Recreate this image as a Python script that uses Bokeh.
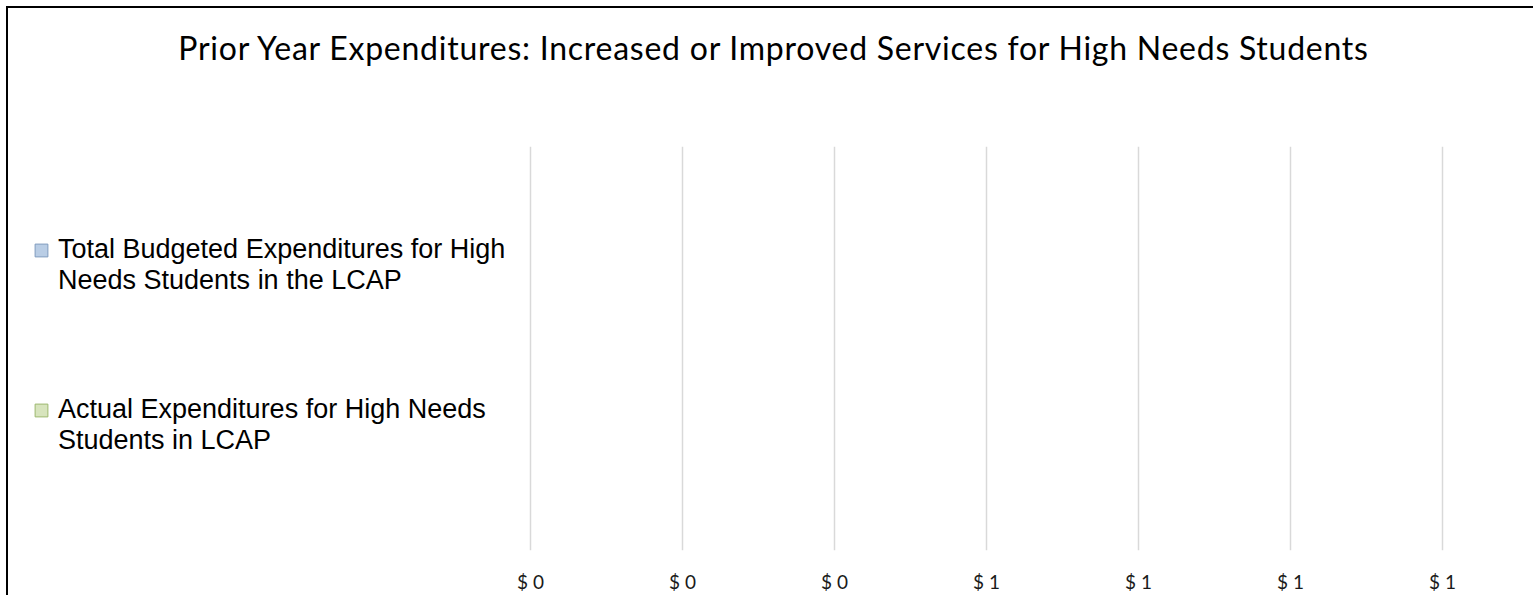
from bokeh.plotting import figure
from bokeh.models import (Range1d, FactorRange, FixedTicker, Legend, LegendItem, Div)
from bokeh.layouts import column, row
from bokeh.embed import file_html
from bokeh.resources import INLINE

title_text = "Prior Year Expenditures: Increased or Improved Services for High Needs Students"
categories = ["Actual", "Total"]
series_lines = [["Total Budgeted Expenditures for High", "Needs Students in the LCAP"],
                ["Actual Expenditures for High Needs", "Students in LCAP"]]
series_cats = ["Total", "Actual"]
series_values = [0, 0]
series_fill = ["#B9CDE5", "#D7E4BD"]
series_line = ["#7F9BBE", "#9DB86E"]
tick_values = [0, 0.2, 0.4, 0.6, 0.8, 1.0, 1.2]
tick_labels = ["$ 0", "$ 0", "$ 0", "$ 1", "$ 1", "$ 1", "$ 1"]

# layout constants (pixels)
PAGE_W, PAGE_H = 1533, 595
BOX_OFF = 6
LINE_W = 2
W = PAGE_W - BOX_OFF - LINE_W
TITLE_H = 146
FIG_H = PAGE_H - TITLE_H
BOTTOM = 29
AXIS_LEFT_PX = 522      # first tick, from the frame's left
AXIS_RIGHT_PX = 1434    # last tick, from the frame's left
px_per_unit = (AXIS_RIGHT_PX - AXIS_LEFT_PX) / (tick_values[-1] - tick_values[0])
x_start = tick_values[0] - AXIS_LEFT_PX / px_per_unit
x_end = tick_values[-1] + (W - AXIS_RIGHT_PX) / px_per_unit

p = figure(width=W, height=FIG_H, x_range=Range1d(x_start, x_end),
           y_range=FactorRange(factors=categories),
           output_backend="svg", toolbar_location=None,
           min_border_left=0, min_border_right=0, min_border_top=0, min_border_bottom=BOTTOM)
p.outline_line_color = None
p.background_fill_color = "white"
p.border_fill_color = "white"
p.yaxis.visible = False
p.ygrid.visible = False

ax = p.xaxis[0]
ax.ticker = FixedTicker(ticks=tick_values)
ax.major_label_overrides = {v: s for v, s in zip(tick_values, tick_labels)}
ax.axis_line_color = None
ax.major_tick_line_color = None
ax.minor_tick_line_color = None
ax.major_label_text_font = "Lato"
ax.major_label_text_font_size = "19px"
ax.major_label_text_line_height = 0.9
ax.major_label_text_color = "#1a1a1a"
ax.major_label_standoff = 13
p.xgrid.grid_line_color = "#D9D9D9"
p.xgrid.grid_line_width = 1.5

nan = float("nan")
legend_y = [254, 94]   # legend bottoms, px above the frame's bottom
for lines, cat, val, fc, lc, ly in zip(series_lines, series_cats, series_values,
                                       series_fill, series_line, legend_y):
    p.hbar(y=[cat], left=[0], right=[val], height=0.6, fill_color=fc, line_alpha=0)
    proxy = p.hbar(y=[cat], left=[nan], right=[nan], height=0.6,
                   fill_color=fc, line_color=lc, line_width=1)
    blank = p.hbar(y=[cat], left=[nan], right=[nan], height=0.6,
                   fill_alpha=0, line_alpha=0)
    items = [LegendItem(label=lines[0], renderers=[proxy]),
             LegendItem(label=lines[1], renderers=[blank])]
    lg = Legend(items=items, location=(25, ly), orientation="vertical",
                glyph_width=16, glyph_height=16, label_standoff=9, spacing=-1,
                padding=0, margin=0, border_line_color=None, background_fill_alpha=0,
                label_text_font="Liberation Sans", label_text_font_size="27px",
                label_text_color="black", label_text_line_height=1.15)
    p.add_layout(lg)

title_html = (
    f'<div style="position:absolute;left:{BOX_OFF}px;top:{BOX_OFF}px;width:2000px;height:2000px;'
    f'border-top:{LINE_W}px solid #000;border-left:{LINE_W}px solid #000;"></div>'
    f'<div style="position:relative;left:7px;width:{PAGE_W}px;text-align:center;padding-top:25px;'
    f'font-family:Lato;font-size:32px;letter-spacing:0.75px;color:#000;">{title_text}</div>'
)
title = Div(text=title_html, width=PAGE_W, height=TITLE_H, margin=0)

left_gap = Div(text="", width=BOX_OFF, height=FIG_H, margin=0)
left_line = Div(text="", width=LINE_W, height=FIG_H, margin=0,
                styles={"background-color": "#000"})

layout = column(title, row(left_gap, left_line, p, spacing=0), spacing=0)

open("out.html", "w").write(file_html(layout, INLINE))
